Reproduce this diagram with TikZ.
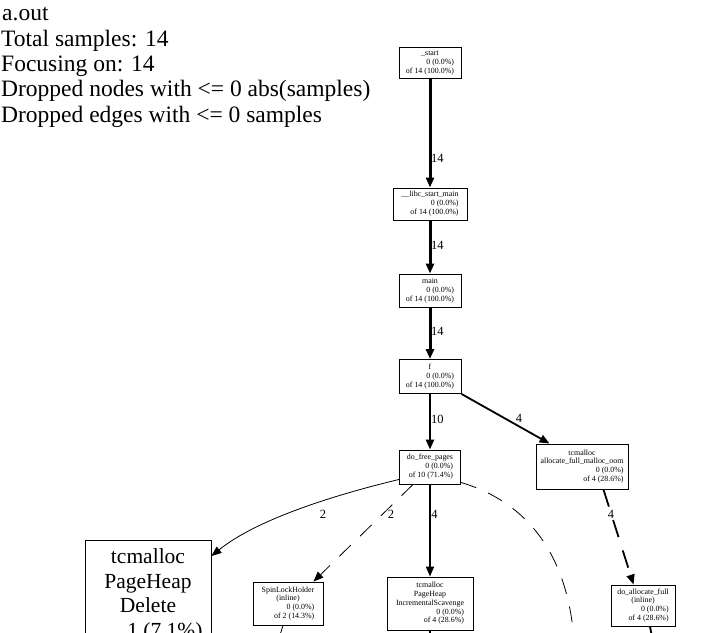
\documentclass[tikz,border=0pt]{standalone}
\usepackage{fontspec}
\setmainfont{Liberation Serif}
\usetikzlibrary{arrows.meta}
\newcommand{\gvc}[1]{\multicolumn{1}{@{}c@{}}{#1}}
\begin{document}
\begin{tikzpicture}[x=1pt,y=-1pt,
  gvbox/.style={draw, line width=0.9pt, inner sep=0pt, font=\fontsize{7.9}{8.8}\selectfont},
  bigbox/.style={draw, line width=0.9pt, inner sep=0pt, font=\fontsize{21.5}{24.7}\selectfont},
  hdr/.style={anchor=base west, inner sep=0pt, font=\fontsize{23.5}{25}\selectfont},
  elab/.style={inner sep=0pt, font=\fontsize{12.5}{14}\selectfont},
  tip/.style={-{Triangle[length=10pt,width=8pt]}},
  wthree/.style={tip, line width=3pt},
  wtwo/.style={tip, line width=2.4pt},
  wmid/.style={tip, line width=1.8pt},
  wthin/.style={tip, line width=0.8pt},
  dash long/.style={dash pattern=on 16pt off 13pt},
  dash thick/.style={dash pattern=on 18pt off 14pt}
]
\useasboundingbox (0,0) rectangle (714,632);
\fill[white] (0,0) rectangle (714,632);
\clip (0,0) rectangle (714,632);

% header
\node[hdr] (h1) at (2,20) {a.out};
\node[hdr] (h2) at (1,46) {Total samples: 14};
\node[hdr] (h3) at (1,71) {Focusing on: 14};
\node[hdr] (h4) at (1,96.5) {Dropped nodes with <= 0 abs(samples)};
\node[hdr] (h5) at (1,122) {Dropped edges with <= 0 samples};

% nodes
\node[gvbox, minimum width=62pt, minimum height=31pt] (start) at (430,62.5)
  {\begin{tabular}{@{}r@{}}\gvc{\_start}\\0 (0.0\%)\\of 14 (100.0\%)\end{tabular}};
\node[gvbox, minimum width=74pt, minimum height=32pt] (libc) at (430,204)
  {\begin{tabular}{@{}r@{}}\gvc{\_\_libc\_start\_main}\\0 (0.0\%)\\of 14 (100.0\%)\end{tabular}};
\node[gvbox, minimum width=62pt, minimum height=33pt] (main) at (430,290.5)
  {\begin{tabular}{@{}r@{}}\gvc{main}\\0 (0.0\%)\\of 14 (100.0\%)\end{tabular}};
\node[gvbox, minimum width=62pt, minimum height=34pt] (f) at (430,376.5)
  {\begin{tabular}{@{}r@{}}\gvc{f}\\0 (0.0\%)\\of 14 (100.0\%)\end{tabular}};
\node[gvbox, minimum width=61pt, minimum height=34pt] (dfp) at (430,467)
  {\begin{tabular}{@{}r@{}}\gvc{do\_free\_pages}\\0 (0.0\%)\\of 10 (71.4\%)\end{tabular}};
\node[gvbox, minimum width=92pt, minimum height=45pt] (alloc) at (582,466.5)
  {\begin{tabular}{@{}r@{}}\gvc{tcmalloc}\\\gvc{allocate\_full\_malloc\_oom}\\0 (0.0\%)\\of 4 (28.6\%)\end{tabular}};
\node[bigbox, anchor=north, minimum width=126pt, text height=23pt, text depth=160pt] (del) at (148,540)
  {\begin{tabular}[t]{@{}r@{}}\gvc{tcmalloc}\\\gvc{PageHeap}\\\gvc{Delete}\\\makebox[109pt][r]{1 (7.1\%)}\end{tabular}};
\node[gvbox, minimum width=70pt, minimum height=43pt] (spin) at (288,603.5)
  {\begin{tabular}{@{}r@{}}\gvc{SpinLockHolder}\\\gvc{(inline)}\\0 (0.0\%)\\of 2 (14.3\%)\end{tabular}};
\node[gvbox, minimum width=86pt, minimum height=53pt] (scav) at (430,603.5)
  {\begin{tabular}{@{}r@{}}\gvc{tcmalloc}\\\gvc{PageHeap}\\\gvc{IncrementalScavenge}\\0 (0.0\%)\\of 4 (28.6\%)\end{tabular}};
\node[gvbox, minimum width=64pt, minimum height=41pt] (doalloc) at (643,605.5)
  {\begin{tabular}{@{}r@{}}\gvc{do\_allocate\_full}\\\gvc{(inline)}\\0 (0.0\%)\\of 4 (28.6\%)\end{tabular}};

% off-picture ends
\coordinate (offarc) at (575,670);
\coordinate (offspin) at (266,680);
\coordinate (offscav) at (430,680);
\coordinate (offdo) at (660,680);

% edges
\draw[wthree] (start) -- (libc);
\draw[wthree] (libc) -- (main);
\draw[wthree] (main) -- (f);
\draw[wtwo] (f) -- (dfp);
\draw[wmid] (f.south east) -- ([xshift=14pt]alloc.north west);
\draw[wthin] ([yshift=5pt]dfp.south west) .. controls (355,490) and (262,515) .. ([yshift=-16pt]del.north east);
\draw[wthin, dash long] ([xshift=14pt]dfp.south west) -- ([xshift=-10pt]spin.north east);
\draw[wmid] (dfp) -- (scav);
\draw[line width=0.8pt, dash long] ([yshift=2pt]dfp.south east) .. controls (530,503) and (576,560) .. (offarc);
\draw[wmid, dash thick] ([xshift=-25pt]alloc.south east) -- ([xshift=23pt]doalloc.north west);
\draw[line width=0.8pt, dash long] ([xshift=-5pt]spin.south) -- (offspin);
\draw[line width=1.2pt] (scav.south) -- (offscav);
\draw[line width=1.8pt, dash thick] ([xshift=7pt]doalloc.south) -- (offdo);

% edge labels
\node[elab, anchor=west] (l1) at (431,158) {14};
\node[elab, anchor=west] (l2) at (431,245) {14};
\node[elab, anchor=west] (l3) at (431,331) {14};
\node[elab, anchor=west] (l4) at (431,419) {10};
\node[elab] (l5) at (519,418) {4};
\node[elab] (l6) at (323,514) {2};
\node[elab] (l7) at (391,514) {2};
\node[elab] (l8) at (434.5,514) {4};
\node[elab] (l9) at (611,514) {4};
\end{tikzpicture}
\end{document}
